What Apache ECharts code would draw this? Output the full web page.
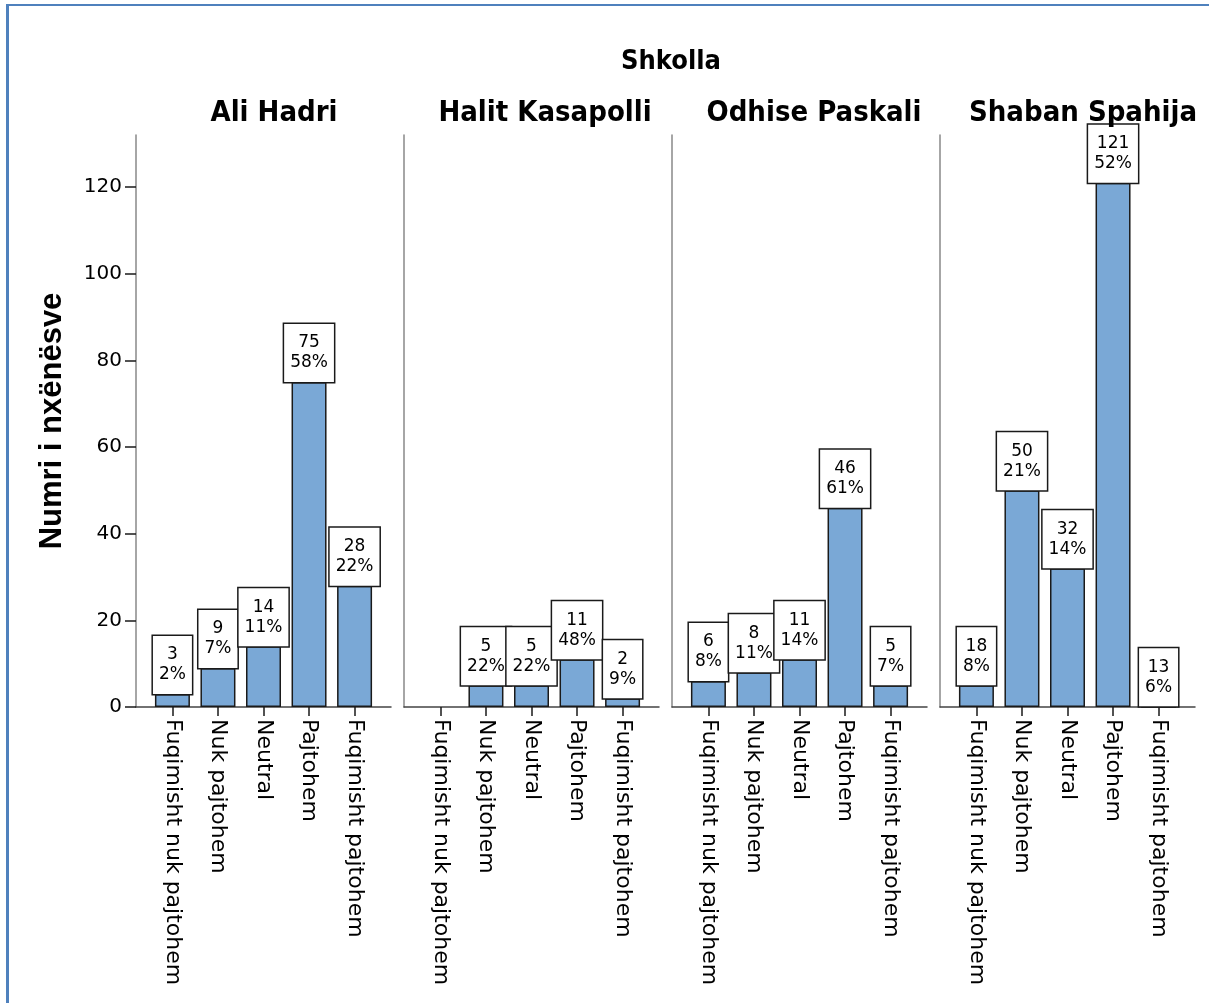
<!DOCTYPE html>
<html>
<head>
<meta charset="utf-8">
<script src="https://cdn.jsdelivr.net/npm/echarts@6/dist/echarts.min.js"></script>
<style>
html,body{margin:0;padding:0;background:#fff;}
#chart{width:1209px;height:1003px;position:relative;}
#frame{position:absolute;left:6px;top:4px;right:0;bottom:0;border-left:3px solid #4f81bd;border-top:2px solid #4f81bd;pointer-events:none;}
</style>
</head>
<body>
<div id="chart"></div>
<div id="frame"></div>
<script>
// ---- data ----
const mainTitle = 'Shkolla';
const yTitle = 'Numri i nxënësve';
const schools = ['Ali Hadri', 'Halit Kasapolli', 'Odhise Paskali', 'Shaban Spahija'];
const categories = ['Fuqimisht nuk pajtohem', 'Nuk pajtohem', 'Neutral', 'Pajtohem', 'Fuqimisht pajtohem'];
const yTicks = [0, 20, 40, 60, 80, 100, 120];

// bar heights as drawn in the picture
const aliHadriBars = [3, 9, 14, 75, 28];
const halitKasapolliBars = [0, 5, 5, 11, 2];
const odhisePaskaliBars = [6, 8, 11, 46, 5];
const shabanSpahijaBars = [5, 50, 32, 121, 0];

// counts printed in the label boxes
const aliHadriCounts = [3, 9, 14, 75, 28];
const halitKasapolliCounts = [0, 5, 5, 11, 2];
const odhisePaskaliCounts = [6, 8, 11, 46, 5];
const shabanSpahijaCounts = [18, 50, 32, 121, 13];

// percentages printed in the label boxes
const aliHadriPct = ['2%', '7%', '11%', '58%', '22%'];
const halitKasapolliPct = ['', '22%', '22%', '48%', '9%'];
const odhisePaskaliPct = ['8%', '11%', '14%', '61%', '7%'];
const shabanSpahijaPct = ['8%', '21%', '14%', '52%', '6%'];

const barsBySchool = [aliHadriBars, halitKasapolliBars, odhisePaskaliBars, shabanSpahijaBars];
const countsBySchool = [aliHadriCounts, halitKasapolliCounts, odhisePaskaliCounts, shabanSpahijaCounts];
const pctBySchool = [aliHadriPct, halitKasapolliPct, odhisePaskaliPct, shabanSpahijaPct];

// ---- layout ----
const panelLeft0 = 136, panelStep = 268, panelWidth = 255;
const gridTop = 135, gridBottom = 1003 - 707;
const titleCenters = [269, 540, 809, 1078];
const narrowBold = "'Liberation Sans Narrow', 'DejaVu Sans Condensed', 'Arial Narrow', sans-serif";
const bodyFont = "'DejaVu Sans', Verdana, sans-serif";
const ink = '#1a1a1a';

const grids = [], xAxes = [], yAxes = [], series = [];
const titles = [{
  text: mainTitle, left: 666, top: 43, textAlign: 'center',
  textStyle: {fontFamily: narrowBold, fontWeight: 'bold', fontSize: 27, color: '#000'}
}];

schools.forEach((s, i) => {
  grids.push({left: panelLeft0 + i * panelStep, width: panelWidth, top: gridTop, bottom: gridBottom, containLabel: false});
  titles.push({
    text: s, left: titleCenters[i], top: 94, textAlign: 'center',
    textStyle: {fontFamily: narrowBold, fontWeight: 'bold', fontSize: 29, color: '#000'}
  });
  xAxes.push({
    type: 'value', gridIndex: i, min: -0.8, max: 4.8,
    splitLine: {show: false},
    axisLine: {show: true, onZero: false, lineStyle: {color: '#444', width: 1.5}},
    axisTick: {show: true, customValues: [0, 1, 2, 3, 4], length: 9, lineStyle: {color: ink, width: 1.5}},
    axisLabel: {
      show: true, customValues: [0, 1, 2, 3, 4], rotate: -90, margin: 12,
      fontFamily: bodyFont, fontSize: 22, color: '#000',
      formatter: v => categories[Math.round(v)]
    }
  });
  yAxes.push({
    type: 'value', gridIndex: i, min: 0, max: 132,
    splitLine: {show: false},
    axisLine: {show: true, onZero: false, lineStyle: {color: '#888', width: 1.5}},
    axisTick: {show: i === 0, customValues: yTicks, length: 11, lineStyle: {color: ink, width: 1.5}},
    axisLabel: {
      show: i === 0, customValues: yTicks, margin: 14,
      fontFamily: bodyFont, fontSize: 20, color: '#000'
    },
    name: i === 0 ? yTitle : '',
    nameLocation: 'middle', nameRotate: 90, nameGap: 68,
    nameTextStyle: {fontFamily: "'Liberation Sans', Arial, sans-serif", fontWeight: 'bold', fontSize: 31, color: '#000'}
  });
  const bars = barsBySchool[i], counts = countsBySchool[i], pct = pctBySchool[i];
  series.push({
    type: 'bar', xAxisIndex: i, yAxisIndex: i, barWidth: 35,
    data: bars.map((v, k) => counts[k] > 0 ? {value: [k, v]} : {value: [k, v], label: {show: false}, itemStyle: {borderWidth: 0}}),
    itemStyle: {color: '#7aa8d6', borderColor: ink, borderWidth: 1.5},
    label: {
      show: true, position: 'top', distance: 0,
      formatter: p => counts[p.dataIndex] + '\n' + pct[p.dataIndex],
      backgroundColor: '#fff', borderColor: ink, borderWidth: 1.5,
      padding: [9, 6, 9, 6], lineHeight: 20,
      fontFamily: bodyFont, fontSize: 17, color: '#000', align: 'center'
    },
    emphasis: {disabled: true}, animation: false
  });
});

const chart = echarts.init(document.getElementById('chart'), null, {renderer: 'canvas'});
chart.setOption({
  animation: false,
  backgroundColor: '#fff',
  title: titles,
  grid: grids,
  xAxis: xAxes,
  yAxis: yAxes,
  series: series
});
</script>
</body>
</html>
